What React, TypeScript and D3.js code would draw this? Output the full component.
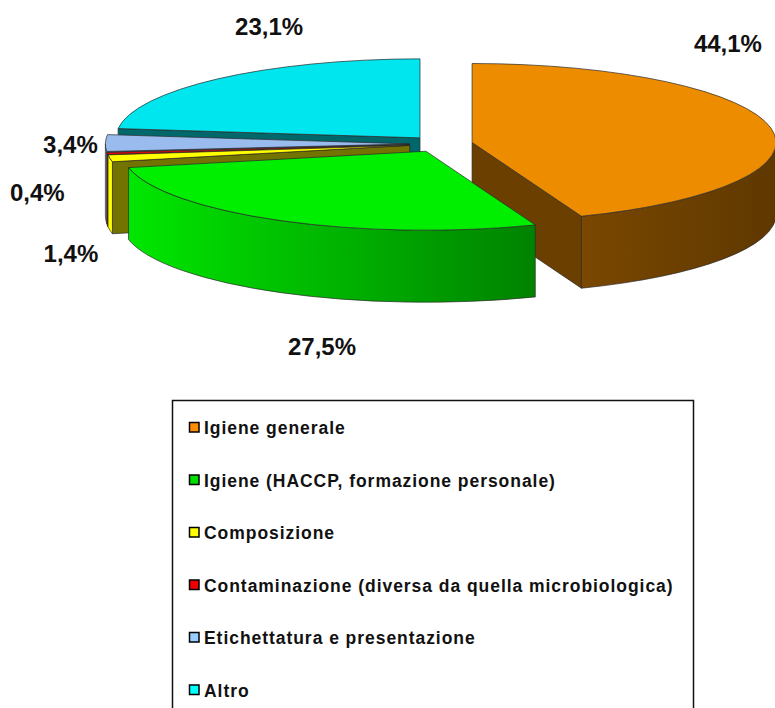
import React from "react";
import * as d3 from "d3";

// ---- data ----
const categories = [
  "Igiene generale",
  "Igiene (HACCP, formazione personale)",
  "Composizione",
  "Contaminazione (diversa da quella microbiologica)",
  "Etichettatura e presentazione",
  "Altro",
];
const values = [44.1, 27.5, 1.4, 0.4, 3.4, 23.1];
const valueLabels = ["44,1%", "27,5%", "1,4%", "0,4%", "3,4%", "23,1%"];

// ---- styles / layout ----
const topColors = ["#EE8C00", "#00EE00", "#FFFF00", "#FF0000", "#99BBEE", "#00E6EE"];
const swatchColors = ["#FF8C00", "#00DD00", "#FFFF00", "#EE0000", "#99CCFF", "#00FFFF"];
// label offsets from the outer point of each slice (layout tuning)
const labelNudge: [number, number][] = [
  [-43, -76],
  [41, 134],
  [-39, 104],
  [-70, 48],
  [-35, 10],
  [51, -44],
];

const W = 775;
const H = 708;
const CX = 441;
const CY = 144;
const RX = 304;
const RY = 79;
const DEPTH = 72;
const EXPLODE = 0.104;
const FONT = "'Liberation Sans', Arial, Helvetica, sans-serif";

type P = [number, number];

const pt = (c: P, a: number, dz = 0): P => [c[0] + RX * Math.sin(a), c[1] - RY * Math.cos(a) + dz];
const f = (p: P) => `${p[0].toFixed(2)},${p[1].toFixed(2)}`;
const shade = (c: string, k: number) => d3.interpolateRgb("#000000", c)(k);

export default function App() {
  const arcs = d3
    .pie<number>()
    .sort(null)
    .startAngle(0)
    .endAngle(2 * Math.PI)(values);

  const slices = arcs.map((a, i) => {
    const mid = (a.startAngle + a.endAngle) / 2;
    const c: P = [CX + EXPLODE * RX * Math.sin(mid), CY - EXPLODE * RY * Math.cos(mid)];
    return { i, a0: a.startAngle, a1: a.endAngle, mid, c };
  });

  const order = [...slices].sort((p, q) => p.c[1] - q.c[1]);

  const gx0 = 100;
  const gx1 = 775;
  const stops: [number, number][] = [
    [100, 1.0],
    [540, 0.54],
    [600, 0.5],
    [775, 0.4],
  ];

  const stroke = "#2a2a2a";
  const sw = 0.7;

  const pieces: React.ReactNode[] = [];
  order.forEach((s) => {
    const { i, a0, a1, c } = s;
    const base = topColors[i];
    const faceColor = shade(base, 0.45);
    const radial = (a: number) => {
      const p = pt(c, a);
      return `M${f(c)}L${f(p)}L${f([p[0], p[1] + DEPTH])}L${f([c[0], c[1] + DEPTH])}Z`;
    };
    if (Math.sin(a0) < -1e-6) {
      pieces.push(
        <path key={`rs${i}`} d={radial(a0)} fill={faceColor} stroke={stroke} strokeWidth={sw} strokeLinejoin="round" />
      );
    }
    if (Math.sin(a1) > 1e-6) {
      pieces.push(
        <path key={`re${i}`} d={radial(a1)} fill={faceColor} stroke={stroke} strokeWidth={sw} strokeLinejoin="round" />
      );
    }
    const b1 = Math.max(a0, Math.PI / 2);
    const b2 = Math.min(a1, (3 * Math.PI) / 2);
    if (b2 > b1) {
      const p1 = pt(c, b1);
      const p2 = pt(c, b2);
      const q2 = pt(c, b2, DEPTH);
      const q1 = pt(c, b1, DEPTH);
      const large = b2 - b1 > Math.PI ? 1 : 0;
      const d = `M${f(p1)}A${RX},${RY} 0 ${large} 1 ${f(p2)}L${f(q2)}A${RX},${RY} 0 ${large} 0 ${f(q1)}Z`;
      pieces.push(
        <path key={`sd${i}`} d={d} fill={`url(#side${i})`} stroke={stroke} strokeWidth={sw} strokeLinejoin="round" />
      );
    }
    const p1 = pt(c, a0);
    const p2 = pt(c, a1);
    const large = a1 - a0 > Math.PI ? 1 : 0;
    const dTop = `M${f(c)}L${f(p1)}A${RX},${RY} 0 ${large} 1 ${f(p2)}Z`;
    pieces.push(
      <path key={`tp${i}`} d={dTop} fill={base} stroke={stroke} strokeWidth={sw} strokeLinejoin="round" />
    );
  });

  const legendX = 172.5;
  const legendY = 400.5;
  const legendW = 521;
  const itemY0 = 434;
  const itemStep = 52.5;

  return (
    <svg
      width={W}
      height={H}
      viewBox={`0 0 ${W} ${H}`}
      style={{ position: "absolute", left: 0, top: 0, display: "block", background: "#fff" }}
    >
      <defs>
        {slices.map((s) => (
          <linearGradient key={s.i} id={`side${s.i}`} gradientUnits="userSpaceOnUse" x1={gx0} y1={0} x2={gx1} y2={0}>
            {stops.map(([x, k], j) => (
              <stop key={j} offset={(x - gx0) / (gx1 - gx0)} stopColor={shade(topColors[s.i], k)} />
            ))}
          </linearGradient>
        ))}
      </defs>
      <rect x={0} y={0} width={W} height={H} fill="#fff" />
      <g>{pieces}</g>
      <g fontFamily={FONT} fontWeight="bold" fontSize={24} fill="#111">
        {slices.map((s) => {
          const anchor = pt(s.c, s.mid);
          const [dx, dy] = labelNudge[s.i];
          return (
            <text key={s.i} x={anchor[0] + dx} y={anchor[1] + dy} textAnchor="middle">
              {valueLabels[s.i]}
            </text>
          );
        })}
      </g>
      <rect x={legendX} y={legendY} width={legendW} height={340} fill="#fff" stroke="#111" strokeWidth={1.5} />
      <g fontFamily={FONT} fontWeight="bold" fontSize={17.5} fill="#111">
        {categories.map((name, i) => {
          const y = itemY0 + i * itemStep;
          return (
            <g key={name}>
              <rect x={189.5} y={y - 11.5} width={9.5} height={9.5} fill={swatchColors[i]} stroke="#000" strokeWidth={1.5} />
              <text x={204} y={y} style={{ letterSpacing: "0.95px" }}>
                {name}
              </text>
            </g>
          );
        })}
      </g>
    </svg>
  );
}
